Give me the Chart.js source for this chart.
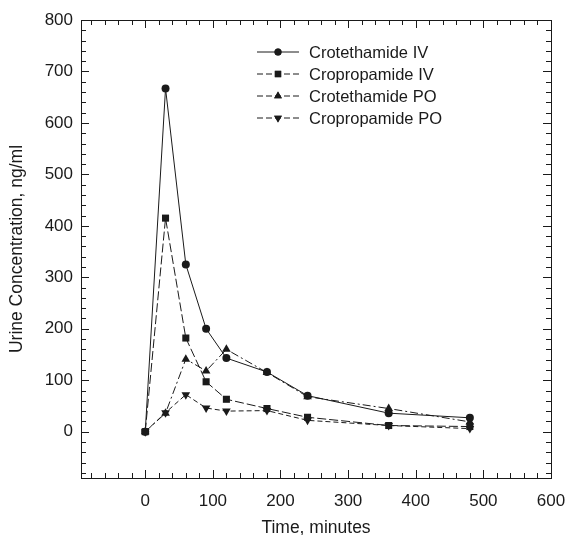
<!DOCTYPE html>
<html>
<head>
<meta charset="utf-8">
<script src="https://cdn.jsdelivr.net/npm/chart.js@4/dist/chart.umd.min.js"></script>
<style>
html,body{margin:0;padding:0;background:#fff;}
#wrap{width:568px;height:535px;}
</style>
</head>
<body>
<div id="wrap"><canvas id="c" width="568" height="535"></canvas></div>
<script>
const times = [0, 30, 60, 90, 120, 180, 240, 360, 480];
const crotethamideIV = [0, 667, 325, 200, 143, 116, 70, 36, 27];
const cropropamideIV = [0, 415, 182, 97, 63, 45, 28, 12, 10];
const crotethamidePO = [0, 36, 141, 118, 160, 115, 68, 45, 19];
const cropropamidePO = [0, 37, 72, 46, 40, 41, 22, 12, 6];
const seriesNames = ['Crotethamide IV', 'Cropropamide IV', 'Crotethamide PO', 'Cropropamide PO'];
const xTickValues = [0, 100, 200, 300, 400, 500, 600];
const yTickValues = [0, 100, 200, 300, 400, 500, 600, 700, 800];

const INK = '#1a1a1a';
const FAM = '"Liberation Sans", Arial, Helvetica, sans-serif';
function pts(arr){ return times.map((t,i)=>({x:t,y:arr[i]})); }

const styles = [
  {pointStyle:'circle', radius:4, rotation:0, dash:[]},
  {pointStyle:'rect', radius:5, rotation:0, dash:[9,3]},
  {pointStyle:'triangle', radius:5, rotation:0, dash:[8,3,2,3]},
  {pointStyle:'triangle', radius:5, rotation:180, dash:[5,3]}
];
const allData = [crotethamideIV, cropropamideIV, crotethamidePO, cropropamidePO];

const datasets = allData.map((d,i)=>({
  label: seriesNames[i],
  data: pts(d),
  showLine: true,
  borderColor: INK,
  backgroundColor: INK,
  borderWidth: 1,
  borderDash: styles[i].dash,
  pointStyle: styles[i].pointStyle,
  pointRadius: styles[i].radius,
  pointRotation: styles[i].rotation,
  pointBackgroundColor: INK,
  pointBorderColor: INK,
  pointBorderWidth: 0,
  tension: 0
}));

const frame = {
  id: 'frame',
  afterDraw(chart){
    const ctx = chart.ctx, a = chart.chartArea;
    const xs = chart.scales.x, ys = chart.scales.y;
    ctx.save();
    ctx.strokeStyle = INK;
    ctx.lineWidth = 1;
    ctx.strokeRect(Math.round(a.left)+0.5, Math.round(a.top)+0.5, Math.round(a.right-a.left), Math.round(a.bottom-a.top));
    ctx.beginPath();
    for(let v=-80; v<=600; v+=20){
      const px = Math.round(xs.getPixelForValue(v))+0.5;
      if(px<=a.left+1 || px>=a.right-1) continue;
      const L = (v%100===0)?8:5;
      ctx.moveTo(px, a.bottom); ctx.lineTo(px, a.bottom-L);
      ctx.moveTo(px, a.top); ctx.lineTo(px, a.top+L);
    }
    for(let v=-80; v<=800; v+=20){
      const py = Math.round(ys.getPixelForValue(v))+0.5;
      if(py<=a.top+1 || py>=a.bottom-1) continue;
      const L = (v%100===0)?8:5;
      ctx.moveTo(a.left, py); ctx.lineTo(a.left+L, py);
      ctx.moveTo(a.right, py); ctx.lineTo(a.right-L, py);
    }
    ctx.stroke();
    // legend
    const lx0 = 257, lx1 = 299, ly0 = 52, dy = 22;
    ctx.font = '16.5px ' + FAM;
    ctx.textBaseline = 'middle';
    ctx.fillStyle = INK;
    datasets.forEach((ds,i)=>{
      const y = ly0 + i*dy;
      ctx.setLineDash(styles[i].dash.length? [6,3] : []);
      ctx.beginPath(); ctx.moveTo(lx0,y); ctx.lineTo(lx1,y); ctx.stroke();
      ctx.setLineDash([]);
      Chart.helpers.drawPoint(ctx, {pointStyle: styles[i].pointStyle, rotation: styles[i].rotation, radius: styles[i].radius-0.5, borderWidth:0}, (lx0+lx1)/2, y);
      ctx.fill();
      ctx.fillText(ds.label, 309, y+1);
    });
    ctx.restore();
  }
};

new Chart(document.getElementById('c'), {
  type: 'scatter',
  data: { datasets },
  options: {
    responsive: false,
    animation: false,
    devicePixelRatio: 1,
    layout: { padding: { left: 0, right: 17, top: 20, bottom: 0 } },
    plugins: { legend: { display: false }, tooltip: { enabled: false } },
    scales: {
      x: {
        type: 'linear', min: -95, max: 600,
        afterBuildTicks(s){ s.ticks = xTickValues.map(v=>({value:v})); },
        afterFit(s){ s.height = 57; s.paddingLeft = 0; s.paddingRight = 0; },
        grid: { display: false, drawTicks: false },
        border: { display: false },
        ticks: { color: INK, padding: 13, font: { family: FAM, size: 17 } },
        title: { display: true, text: 'Time, minutes', color: INK, padding: { top: 0, bottom: -2 }, font: { family: FAM, size: 17.5, lineHeight: 1 } }
      },
      y: {
        type: 'linear', min: -90, max: 800,
        afterBuildTicks(s){ s.ticks = yTickValues.map(v=>({value:v})); },
        afterFit(s){ s.width = 81; s.paddingTop = 0; s.paddingBottom = 0; },
        grid: { display: false, drawTicks: false },
        border: { display: false },
        ticks: { color: INK, padding: 8, font: { family: FAM, size: 17 } },
        title: { display: true, text: 'Urine Concentration, ng/ml', color: INK, padding: { top: 7, bottom: 0 }, font: { family: FAM, size: 17.5 } }
      }
    }
  },
  plugins: [frame]
});
</script>
</body>
</html>
